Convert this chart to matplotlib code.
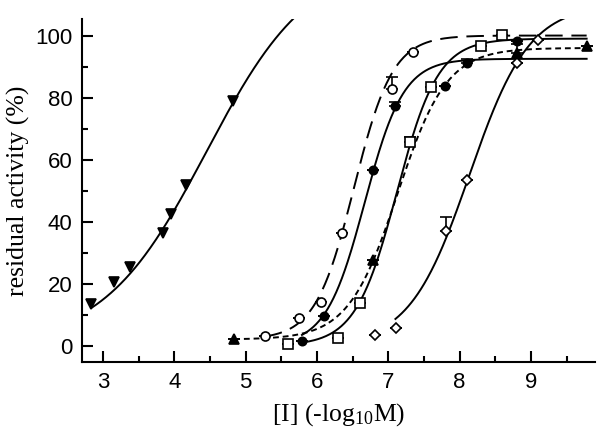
import numpy as np
import matplotlib
matplotlib.use("Agg")
import matplotlib.pyplot as plt
from matplotlib.ticker import MultipleLocator

plt.rcParams['mathtext.default'] = 'regular'

# measured points, x = -log10[I], y = residual activity (%)
tri_down_x = [2.84, 3.15, 3.38, 3.84, 3.96, 4.16, 4.83]
tri_down_y = [13.5, 20.4, 25.4, 36.3, 42.5, 51.7, 79.0]

open_circ_x = [5.27, 5.75, 6.05, 6.35, 7.05, 7.35]
open_circ_y = [3.0, 9.0, 14.1, 36.4, 82.9, 94.6]
open_circ_err = [0, 0, 0, 0, 3.6, 0]

fill_circ_x = [5.79, 6.10, 6.79, 7.10, 7.80, 8.10, 8.80]
fill_circ_y = [1.4, 9.7, 56.6, 77.2, 83.7, 91.2, 98.2]
fill_circ_err = [0, 0, 0, 1.5, 0, 1.3, 0]

square_x = [5.60, 6.29, 6.60, 7.30, 7.60, 8.30, 8.59]
square_y = [0.5, 2.5, 13.8, 65.6, 83.4, 96.6, 100.1]
square_err = [0, 0, 0, 1.7, 0, 0, 0]

tri_up_x = [4.84, 6.79, 8.80, 9.78]
tri_up_y = [2.2, 27.7, 94.4, 96.5]
tri_up_err = [0, 0, 3.0, 0]

diamond_x = [6.81, 7.11, 7.81, 8.11, 8.80, 9.10]
diamond_y = [3.5, 5.7, 36.9, 53.3, 91.2, 98.7]
diamond_err = [0, 0, 4.5, 0, 0, 0]

# fitted dose-response curves: bottom, top, EC50, hill slope, x start, x end
fit_tri_down = [0, 125, 4.45, 0.60, 2.84, 5.75]
fit_open_circ = [2, 100, 6.52, 1.60, 5.27, 9.78]
fit_fill_circ = [0, 92.5, 6.67, 1.60, 5.79, 9.78]
fit_square = [0, 99, 7.12, 1.50, 5.75, 9.78]
fit_tri_up = [2, 96, 7.13, 1.26, 4.84, 9.78]
fit_diamond = [0, 110, 8.136, 1.033, 7.1, 9.78]


def logistic(p):
    bottom, top, ec50, hill, x0, x1 = p
    x = np.linspace(x0, x1, 300)
    return x, bottom + (top - bottom) / (1 + 10 ** (hill * (ec50 - x)))


fig = plt.figure(figsize=(6, 4.37), dpi=100)
ax = fig.add_axes([0.137, 0.172, 0.855, 0.785])

lw = 1.4
ms = 6.5

ax.plot(*logistic(fit_tri_down), color='black', lw=lw)
ax.plot(*logistic(fit_open_circ), color='black', lw=lw, dashes=(9, 4.5))
ax.plot(*logistic(fit_fill_circ), color='black', lw=lw)
ax.plot(*logistic(fit_square), color='black', lw=lw)
ax.plot(*logistic(fit_tri_up), color='black', lw=lw, dashes=(3, 2))
ax.plot(*logistic(fit_diamond), color='black', lw=lw)


def points(x, y, err, marker, filled, size=ms):
    face = 'black' if filled else 'white'
    if err is not None:
        ax.errorbar(x, y, yerr=[np.zeros(len(err)), err], fmt='none',
                    ecolor='black', elinewidth=1.2, capsize=4, capthick=1.2)
    ax.plot(x, y, linestyle='none', marker=marker, markersize=size,
            markerfacecolor=face, markeredgecolor='black', markeredgewidth=1.2,
            zorder=5)


points(tri_down_x, tri_down_y, None, 'v', True)
points(open_circ_x, open_circ_y, open_circ_err, 'o', False, 6.5)
points(fill_circ_x, fill_circ_y, fill_circ_err, 'o', True, 6)
points(square_x, square_y, square_err, 's', False, 6.5)
points(tri_up_x, tri_up_y, tri_up_err, '^', True)
points(diamond_x, diamond_y, diamond_err, 'D', False, 5.5)

ax.set_xlim(2.71, 9.9)
ax.set_ylim(-5.2, 105.4)
ax.xaxis.set_major_locator(MultipleLocator(1))
ax.xaxis.set_minor_locator(MultipleLocator(0.5))
ax.yaxis.set_major_locator(MultipleLocator(20))
ax.yaxis.set_minor_locator(MultipleLocator(10))

for side in ['top', 'right']:
    ax.spines[side].set_visible(False)
for side in ['left', 'bottom']:
    ax.spines[side].set_linewidth(1.5)

ax.tick_params(which='major', direction='in', length=8, width=1.5,
               labelsize=16, pad=7)
ax.tick_params(which='minor', direction='in', length=4.5, width=1.5)
for lab in ax.get_xticklabels() + ax.get_yticklabels():
    lab.set_family('Liberation Sans')

ax.set_xlabel('[I] (-log$_{10}$M)', family='Liberation Serif', fontsize=18.5,
              labelpad=6)
ax.set_ylabel('residual activity (%)', family='Liberation Serif', fontsize=18.5,
              labelpad=4)

fig.savefig('out.png', dpi=100)
